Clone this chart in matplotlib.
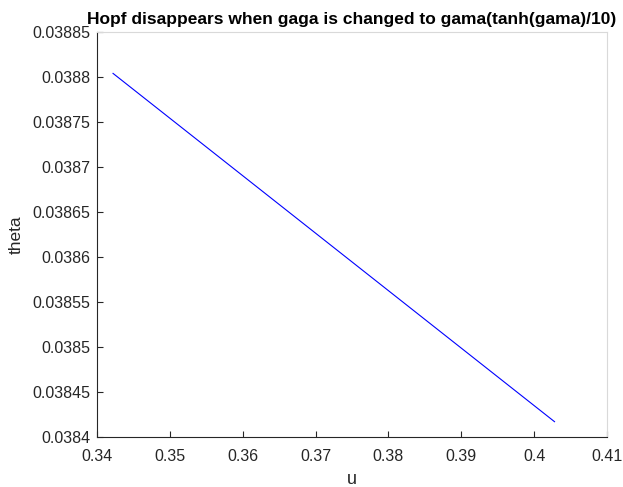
import matplotlib

matplotlib.use("Agg")

import matplotlib.pyplot as plt

U_VALUES = [0.3422, 0.4028]
THETA_VALUES = [0.038804, 0.038417]
X_TICKS = [0.34, 0.35, 0.36, 0.37, 0.38, 0.39, 0.40, 0.41]
Y_TICKS = [0.0384, 0.03845, 0.0385, 0.03855, 0.0386, 0.03865, 0.0387, 0.03875, 0.0388, 0.03885]
X_LABELS = ["0.34", "0.35", "0.36", "0.37", "0.38", "0.39", "0.4", "0.41"]
Y_LABELS = ["0.0384", "0.03845", "0.0385", "0.03855", "0.0386", "0.03865", "0.0387", "0.03875", "0.0388", "0.03885"]


def main():
    plt.rcParams["font.family"] = ["Liberation Sans", "DejaVu Sans"]
    fig = plt.figure(figsize=(6.23, 4.87), dpi=100)
    ax = fig.add_axes([0.1557, 0.1027, 0.8186, 0.8316])

    ax.plot(U_VALUES, THETA_VALUES, color="#0000ff", linewidth=0.8)

    ax.set_xlim(0.34, 0.41)
    ax.set_ylim(0.0384, 0.03885)
    ax.set_xticks(X_TICKS)
    ax.set_xticklabels(X_LABELS)
    ax.set_yticks(Y_TICKS)
    ax.set_yticklabels(Y_LABELS)
    ax.tick_params(direction="in", length=4, labelsize=11.5, colors="#262626")
    ax.tick_params(axis="x", pad=9)
    ax.tick_params(axis="y", pad=5)

    for side in ("left", "bottom"):
        ax.spines[side].set_color("#262626")
        ax.spines[side].set_linewidth(0.8)
    for side in ("top", "right"):
        ax.spines[side].set_color("#d9d9d9")
        ax.spines[side].set_linewidth(0.8)

    ax.set_xlabel("u", fontsize=13, color="#262626", labelpad=5)
    ax.set_ylabel("theta", fontsize=12.5, color="#262626", labelpad=6)
    ax.set_title("Hopf disappears when gaga is changed to gama(tanh(gama)/10)",
                 fontsize=12.5, fontweight="bold", pad=6)

    fig.savefig("out.png", dpi=100)


if __name__ == "__main__":
    main()
